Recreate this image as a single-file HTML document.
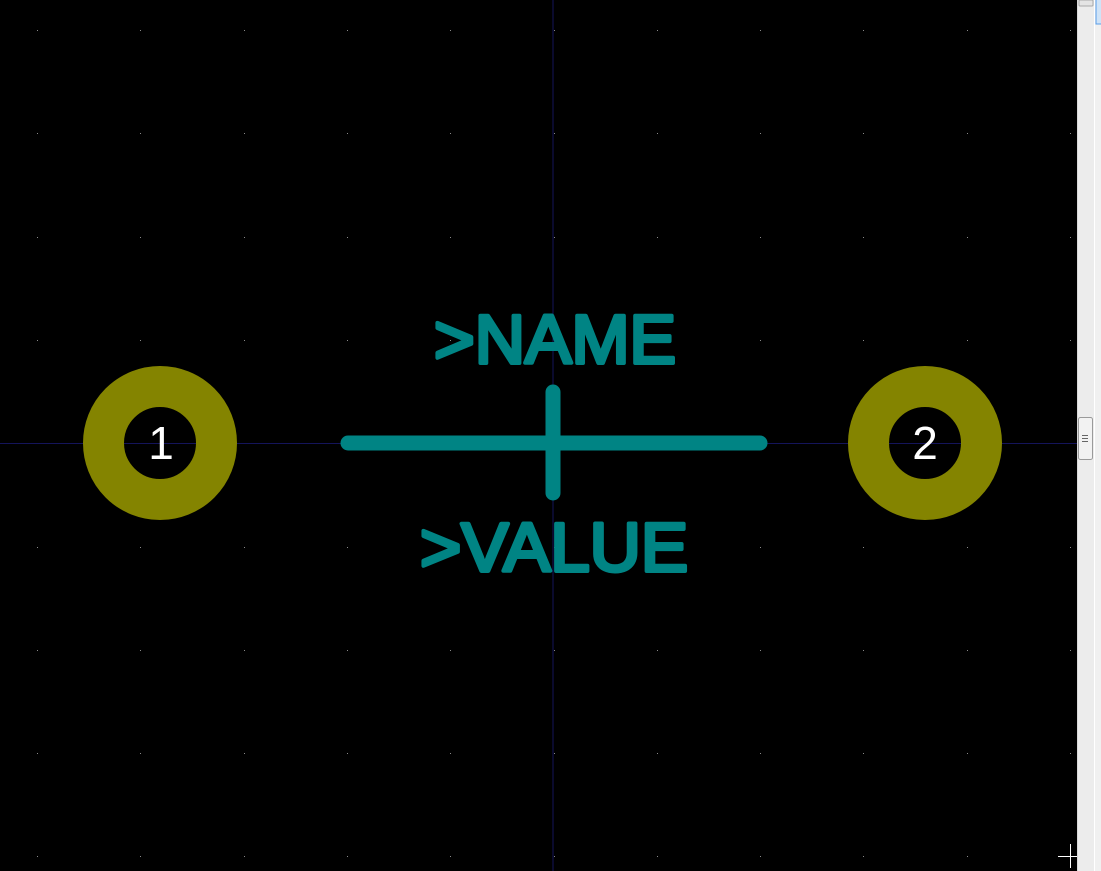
<!DOCTYPE html>
<html><head><meta charset="utf-8"><style>
html,body{margin:0;padding:0;background:#000;overflow:hidden}
#wrap{position:relative;width:1101px;height:871px}
svg{position:absolute;left:0;top:0}
</style></head><body>
<div id="wrap">
<svg width="1101" height="871" viewBox="0 0 1101 871">
<rect x="0" y="0" width="1077" height="871" fill="#000"/>
<g id="grid"></g>
<line x1="553" y1="0" x2="553" y2="871" stroke="#14145a" stroke-width="1"/>
<line x1="0" y1="443.5" x2="1077" y2="443.5" stroke="#14145a" stroke-width="1"/>
<g>
<circle cx="160" cy="443" r="56.5" fill="none" stroke="#848400" stroke-width="41"/>
<text x="161" y="459" text-anchor="middle" font-family="Liberation Sans, sans-serif" font-size="46" fill="#fff">1</text>
</g>
<g>
<circle cx="925" cy="443" r="56.5" fill="none" stroke="#848400" stroke-width="41"/>
<text x="925" y="459" text-anchor="middle" font-family="Liberation Sans, sans-serif" font-size="46" fill="#fff">2</text>
</g>
<line x1="348" y1="443" x2="760" y2="443" stroke="#008484" stroke-width="15" stroke-linecap="round"/>
<line x1="553" y1="392" x2="553" y2="493" stroke="#008484" stroke-width="15" stroke-linecap="round"/>
<text x="434" y="363" textLength="242" lengthAdjust="spacingAndGlyphs" font-family="Liberation Sans, sans-serif" font-size="69" fill="#008484" stroke="#008484" stroke-width="4" stroke-linejoin="round">&gt;NAME</text>
<text x="420" y="571" textLength="268" lengthAdjust="spacingAndGlyphs" font-family="Liberation Sans, sans-serif" font-size="69" fill="#008484" stroke="#008484" stroke-width="4" stroke-linejoin="round">&gt;VALUE</text>
<g>
<line x1="1058" y1="856.5" x2="1077" y2="856.5" stroke="#fff" stroke-width="1"/>
<line x1="1070.5" y1="844" x2="1070.5" y2="868" stroke="#fff" stroke-width="1"/>
</g>
<g>
<rect x="1077" y="0" width="17" height="871" fill="#ececec"/>
<line x1="1077.5" y1="0" x2="1077.5" y2="871" stroke="#d8d8d8"/>
<rect x="1094" y="0" width="7" height="871" fill="#f0f0f0"/>
<line x1="1094.5" y1="0" x2="1094.5" y2="871" stroke="#ffffff"/>
<rect x="1079" y="0" width="14" height="6" rx="1" fill="#e4e4e4" stroke="#a8a8a8"/>
<rect x="1078.5" y="417.5" width="14" height="42" rx="2" fill="#f2f2f2" stroke="#9a9a9a"/>
<line x1="1082" y1="435.5" x2="1088" y2="435.5" stroke="#666"/>
<line x1="1082" y1="438.5" x2="1088" y2="438.5" stroke="#666"/>
<line x1="1082" y1="441.5" x2="1088" y2="441.5" stroke="#666"/>
<rect x="1096" y="-2" width="6" height="26" fill="#cfe3f7" stroke="#5a9ee8"/>
</g>
</svg>
</div>
<script>
const g=document.getElementById('grid');
const NS='http://www.w3.org/2000/svg';
for(let i=0;i<11;i++){for(let j=0;j<9;j++){
const x=37+i*103.3, y=30+j*103.3;
if(x>1075) continue;
const r=document.createElementNS(NS,'rect');
r.setAttribute('x',Math.round(x));r.setAttribute('y',Math.round(y));
r.setAttribute('width',1);r.setAttribute('height',1);r.setAttribute('fill','#8a8a8a');


g.appendChild(r);
}}
</script>
</body></html>
